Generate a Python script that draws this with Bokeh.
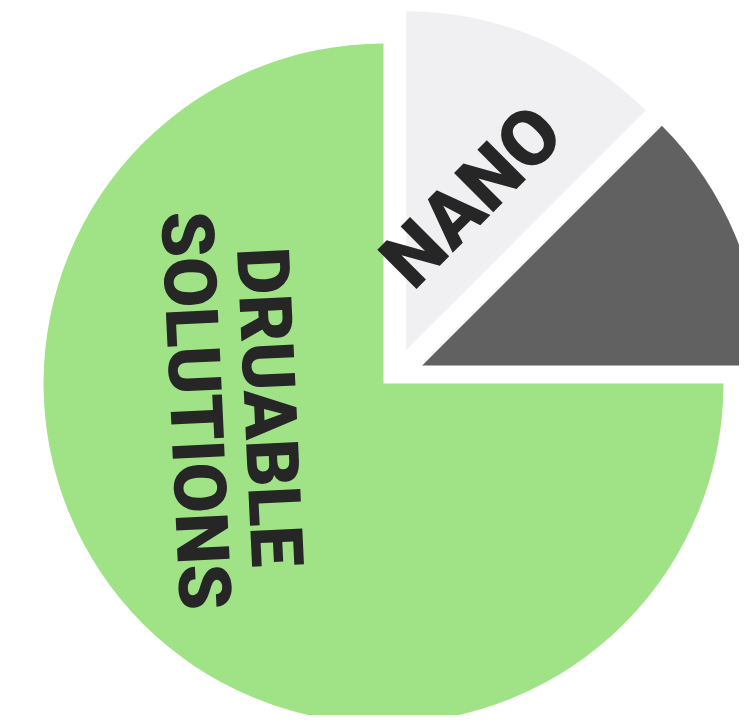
import math
from bokeh.plotting import figure
from bokeh.models import Range1d, ColumnDataSource
from bokeh.core.properties import value
from bokeh.embed import file_html
from bokeh.resources import INLINE

# ---- data ----
categories = ["NANO", "", "DRUABLE\nSOLUTIONS"]
values = [12.5, 12.5, 75.0]
colors = ["#F0F0F2", "#616161", "#A0E386"]

# ---- style / layout ----
W, H = 739, 715
cx, cy = 383.0, 340.0          # pie centre (data units = px)
radii = [339.0, 339.0, 340.0]
explode_dx = [22.7, 38.7, 0.0]
explode_dy = [33.2, 18.0, 0.0]
label_r = [0.493, 0.0, 0.45]    # fraction of radius along label direction
label_dir_deg = [67.0, 0.0, 189.5]
label_rot_deg = [45.0, 0.0, -87.3]
label_size = ["78px", "10px", "73px"]
FONT = "Roboto Black, Roboto"

total = sum(values)
start = math.pi / 2
starts, ends, xs, ys = [], [], [], []
tx, ty, trot = [], [], []
for i, v in enumerate(values):
    sweep = v / total * 2 * math.pi
    end = start - sweep
    starts.append(end)
    ends.append(start)
    x0 = cx + explode_dx[i]
    y0 = cy + explode_dy[i]
    xs.append(x0)
    ys.append(y0)
    a = math.radians(label_dir_deg[i])
    tx.append(x0 + label_r[i] * radii[i] * math.cos(a))
    ty.append(y0 + label_r[i] * radii[i] * math.sin(a))
    trot.append(math.radians(label_rot_deg[i]))
    start = end

src = ColumnDataSource(dict(x=xs, y=ys, r=radii, s=starts, e=ends, c=colors))

p = figure(width=W, height=H, output_backend="svg", toolbar_location=None,
           x_range=Range1d(0, W), y_range=Range1d(723 - H, 723),
           min_border=0)
p.axis.visible = False
p.xgrid.visible = False
p.ygrid.visible = False
p.outline_line_color = None
p.background_fill_color = "white"
p.border_fill_color = "white"

p.wedge(x="x", y="y", radius="r", start_angle="s", end_angle="e",
        fill_color="c", line_color=None, source=src)

for i, lab in enumerate(categories):
    if not lab:
        continue
    p.text(x=[tx[i]], y=[ty[i]], text=[lab], angle=trot[i],
           text_font=value(FONT), text_font_style="bold",
           text_font_size=label_size[i], text_color="#262626",
           text_align="center", text_baseline="middle",
           text_line_height=0.86)

open("out.html", "w").write(file_html(p, INLINE))
